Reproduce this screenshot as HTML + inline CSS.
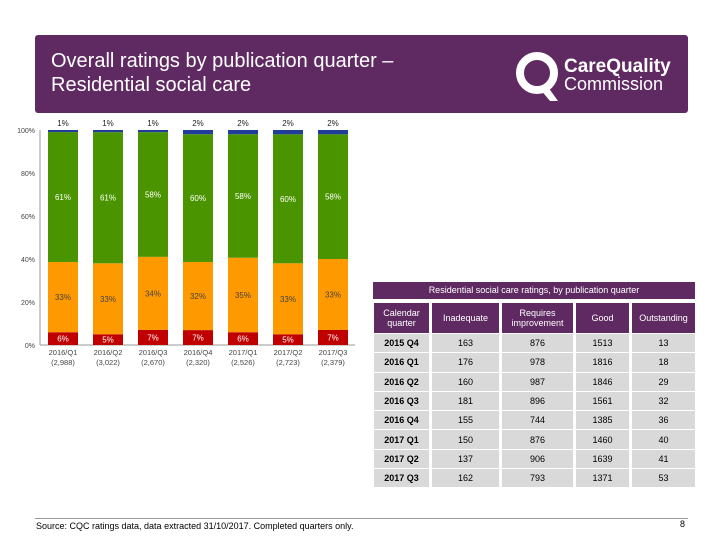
<!DOCTYPE html>
<html><head><meta charset="utf-8"><style>
body{margin:0;width:720px;height:540px;background:#fff;font-family:"Liberation Sans",sans-serif;position:relative;overflow:hidden}
.hdr{position:absolute;left:35px;top:35px;width:653px;height:78px;background:#5f2a62;border-radius:3px}
.hdr h1{position:absolute;left:16px;top:14px;margin:0;color:#fff;font-weight:normal;font-size:20px;line-height:24px}
.tbl{position:absolute;left:373px;top:282px;width:322px}
table{border-collapse:separate;border-spacing:3px 1px;font-size:9px;text-align:center;width:324px;margin-left:-2px;table-layout:fixed}
td{background:#d9d9d9;height:18.3px;padding:0}
th{background:#5f2a62;color:#fff;font-weight:normal;height:30px;padding:0;font-size:9px}
.ttl{background:#5f2a62;color:#fff;text-align:center;font-size:9px;height:17px;line-height:17px;margin-bottom:3px}
</style></head><body>
<div class="hdr">
<h1>Overall ratings by publication quarter –<br>Residential social care</h1>
<svg style="position:absolute;left:475px;top:10px" width="170" height="62">
<circle cx="27" cy="28" r="17" fill="none" stroke="#fff" stroke-width="8"/>
<path d="M30 44 L40 56 L48 56 L38 42 Z" fill="#fff"/>
<text x="54" y="27" fill="#fff" font-size="19" font-weight="bold">CareQuality</text>
<text x="54" y="45" fill="#fff" font-size="18">Commission</text>
</svg>
</div>
<svg id="chart" style="position:absolute;left:0;top:0" width="370" height="410"></svg>
<div class="tbl">
<div class="ttl">Residential social care ratings, by publication quarter</div>
<table id="t"><colgroup><col style="width:55px"><col style="width:67px"><col style="width:71px"><col style="width:53px"><col style="width:63px"></colgroup>
<tr><th>Calendar<br>quarter</th><th>Inadequate</th><th>Requires<br>improvement</th><th>Good</th><th>Outstanding</th></tr></table>
</div>
<div style="position:absolute;left:35px;top:518px;width:653px;height:1px;background:#999"></div>
<div style="position:absolute;left:36px;top:521px;font-size:9px">Source: CQC ratings data, data extracted 31/10/2017. Completed quarters only.</div>
<div style="position:absolute;left:680px;top:519px;font-size:9px">8</div>
<script>
const cats=["2016/Q1","2016/Q2","2016/Q3","2016/Q4","2017/Q1","2017/Q2","2017/Q3"];
const counts=["(2,988)","(3,022)","(2,670)","(2,320)","(2,526)","(2,723)","(2,379)"];
const inadequate=[6,5,7,7,6,5,7];
const requiresImp=[33,33,34,32,35,33,33];
const good=[61,61,58,60,58,60,58];
const outstanding=[1,1,1,2,2,2,2];
const yTicks=[0,20,40,60,80,100];
const rows=[["2015 Q4",163,876,1513,13],["2016 Q1",176,978,1816,18],["2016 Q2",160,987,1846,29],["2016 Q3",181,896,1561,32],["2016 Q4",155,744,1385,36],["2017 Q1",150,876,1460,40],["2017 Q2",137,906,1639,41],["2017 Q3",162,793,1371,53]];
const NS="http://www.w3.org/2000/svg",svg=document.getElementById('chart');
const y0=345,y1=130;const Y=v=>y0-(y0-y1)*v/100;const X=i=>48+45*i;const bw=30;
function mk(t,a,txt){const e=document.createElementNS(NS,t);for(const k in a)e.setAttribute(k,a[k]);if(txt!=null)e.textContent=txt;svg.appendChild(e);return e;}
const ax=mk('line',{x1:40,x2:355,y1:y0,y2:y0,stroke:'#999'});


const ay=mk('line',{x1:40,x2:40,y1:y0,y2:y1,stroke:'#999'});


yTicks.forEach(v=>{const t=mk('text',{x:35,y:Y(v)+3,'font-size':7,'text-anchor':'end',fill:'#444'},v+'%');

});
const series=[[inadequate,'#c00000','#fff'],[requiresImp,'#ff9900','#444'],[good,'#4a9400','#fff'],[outstanding,'#1f3d99',null]];
cats.forEach((c,i)=>{let tot=0;series.forEach(s=>tot+=s[0][i]);let acc=0;
series.forEach((s,k)=>{const v=s[0][i]*100/tot;const yt=Y(acc+v),yb=Y(acc);
const r=mk('rect',{x:X(i),y:yt,width:bw,height:yb-yt,fill:s[1]});


if(s[2]){const t=mk('text',{x:X(i)+bw/2,y:(yt+yb)/2+3,'font-size':8,'text-anchor':'middle',fill:s[2]},s[0][i]+'%');

}
else{const t=mk('text',{x:X(i)+bw/2,y:y1-4,'font-size':8,'text-anchor':'middle',fill:'#222'},s[0][i]+'%');

}
acc+=v;});
const a=mk('text',{x:X(i)+bw/2,y:y0+10,'font-size':7.5,'text-anchor':'middle',fill:'#444'},c);


const b=mk('text',{x:X(i)+bw/2,y:y0+20,'font-size':7.5,'text-anchor':'middle',fill:'#444'},counts[i]);

});
const tb=document.getElementById('t');
rows.forEach(r=>{const tr=document.createElement('tr');


r.forEach((v,j)=>{const td=document.createElement('td');td.textContent=v;if(j==0)td.style.fontWeight='bold';tr.appendChild(td);});tb.appendChild(tr);});
</script>
</body></html>
